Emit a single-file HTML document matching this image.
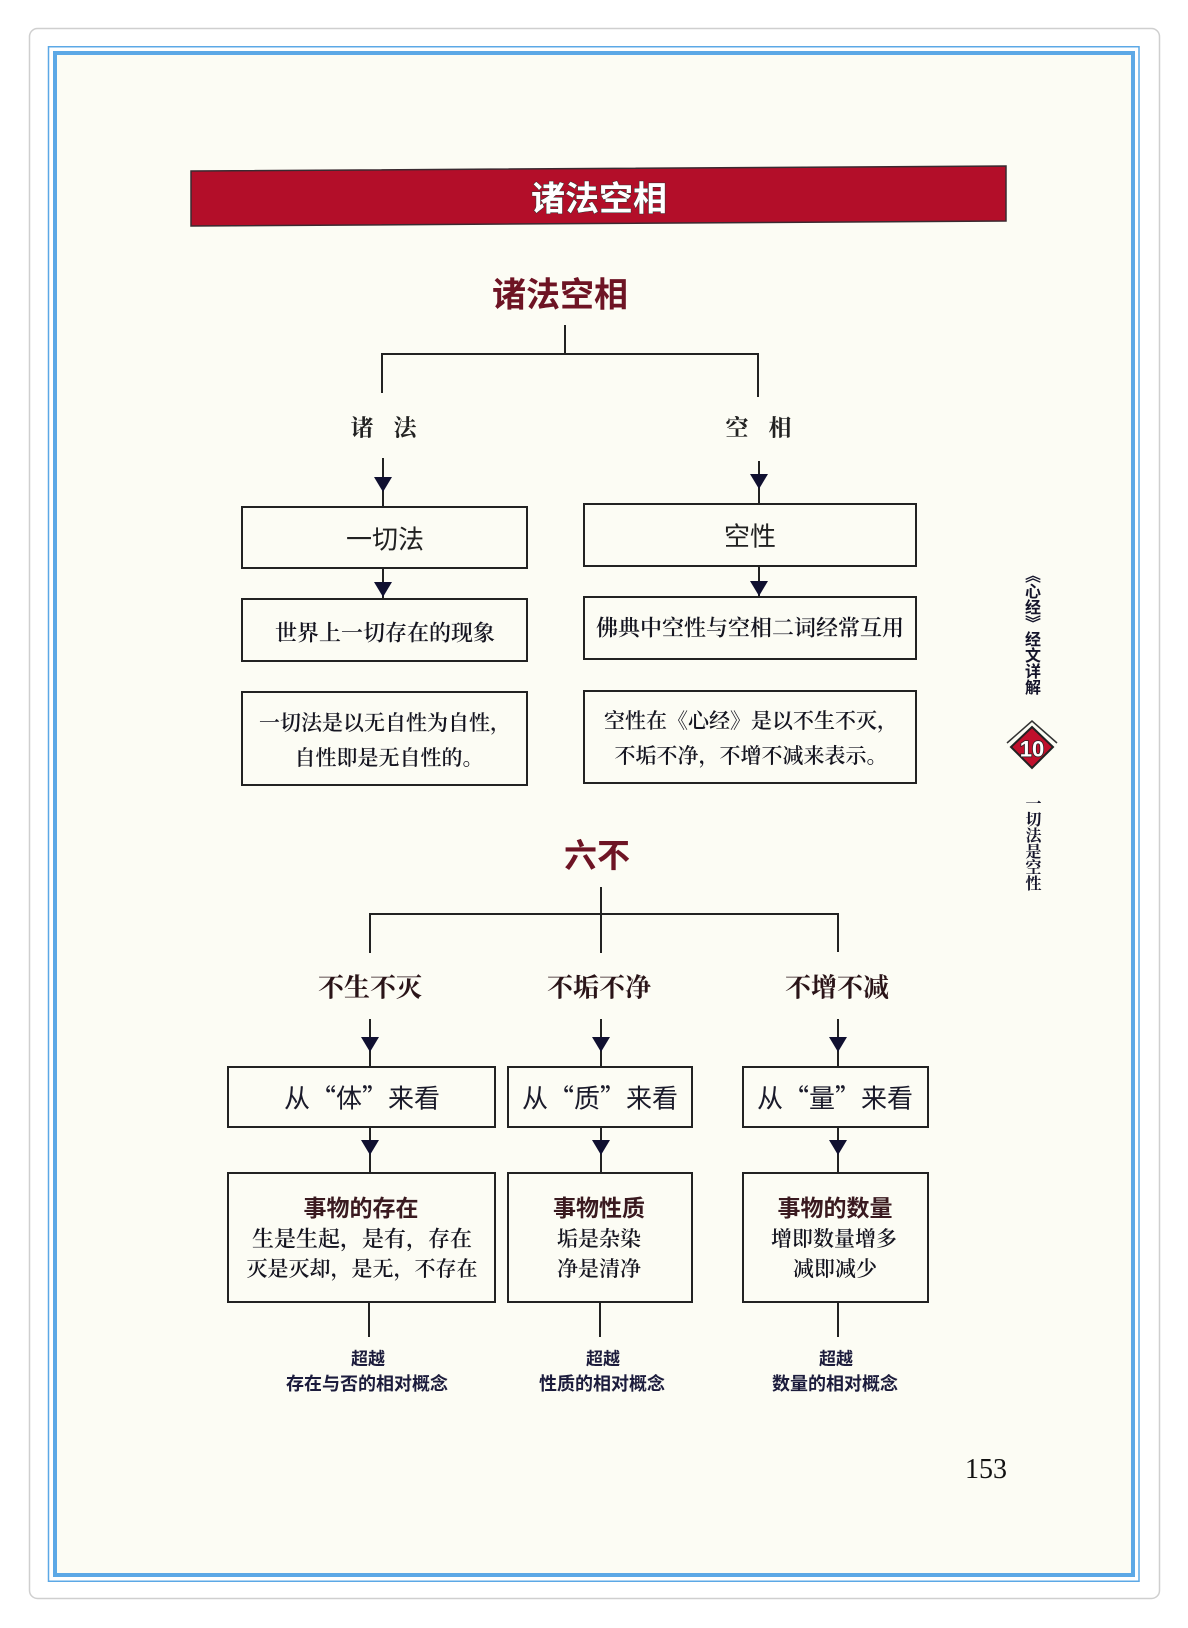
<!DOCTYPE html>
<html><head><meta charset="utf-8">
<style>
html,body{margin:0;padding:0;background:#fff;}
body{width:1188px;height:1628px;position:relative;overflow:hidden;}
svg{position:absolute;left:0;top:0;}
.vt{position:absolute;writing-mode:vertical-rl;font-family:"Noto Sans CJK SC","WenQuanYi Zen Hei",sans-serif;font-size:16px;line-height:20px;color:#14142a;letter-spacing:0;font-weight:bold;}
</style></head>
<body>
<svg width="1188" height="1628" viewBox="0 0 1188 1628" xmlns="http://www.w3.org/2000/svg">
  <!-- card -->
  <rect x="29.5" y="28.5" width="1130" height="1570" rx="8" fill="#ffffff" stroke="#cfcfcf" stroke-width="1.5"/>
  <rect x="48.5" y="46.75" width="1090.5" height="1534.5" fill="none" stroke="#5ca8e6" stroke-width="1.5"/>
  <rect x="55" y="53" width="1078" height="1522" fill="#fcfcf4" stroke="#5ca8e6" stroke-width="4"/>

  <!-- banner -->
  <polygon points="191,171 1006,166 1006,221 191,226" fill="#b30e29" stroke="#3a2a30" stroke-width="1.5"/>
  <text x="599" y="196" text-anchor="middle" dominant-baseline="central" font-family="Noto Sans CJK SC, sans-serif" font-weight="bold" font-size="34" fill="#ffffff" stroke="#333" stroke-width="1" paint-order="stroke">诸法空相</text>

  <!-- heading 1 -->
  <text x="560" y="292" text-anchor="middle" dominant-baseline="central" font-family="Noto Sans CJK SC, sans-serif" font-weight="bold" font-size="34" fill="#6e1424">诸法空相</text>

  <g stroke="#222" stroke-width="2" fill="none">
    <path d="M565 325 V354 M381 354 H759 M382 353 V393 M758 353 V397"/>
    <!-- left column -->
    <path d="M383 458 V507 M383 568 V599"/>
    <rect x="242" y="507" width="285" height="61"/>
    <rect x="242" y="599" width="285" height="62"/>
    <rect x="242" y="692" width="285" height="93"/>
    <!-- right column -->
    <path d="M759 461 V504 M759 566 V597"/>
    <rect x="584" y="504" width="332" height="62"/>
    <rect x="584" y="597" width="332" height="62"/>
    <rect x="584" y="691" width="332" height="92"/>

    <!-- second tree -->
    <path d="M601 887 V914 M369 914 H839 M370 914 V953 M601 914 V953 M838 914 V952"/>
    <path d="M370 1019 V1067 M601 1019 V1067 M838 1019 V1067"/>
    <rect x="228" y="1067" width="267" height="60"/>
    <rect x="508" y="1067" width="184" height="60"/>
    <rect x="743" y="1067" width="185" height="60"/>
    <path d="M370 1127 V1173 M601 1127 V1173 M838 1127 V1173"/>
    <rect x="228" y="1173" width="267" height="129"/>
    <rect x="508" y="1173" width="184" height="129"/>
    <rect x="743" y="1173" width="185" height="129"/>
    <path d="M369 1302 V1337 M600 1302 V1337 M838 1302 V1337"/>
  </g>

  <!-- arrowheads -->
  <g fill="#101030">
    <polygon points="374,477 392,477 383,492"/>
    <polygon points="374,582 392,582 383,597"/>
    <polygon points="750,474 768,474 759,489"/>
    <polygon points="750,581 768,581 759,596"/>
    <polygon points="361,1037 379,1037 370,1052"/>
    <polygon points="592,1037 610,1037 601,1052"/>
    <polygon points="829,1037 847,1037 838,1052"/>
    <polygon points="361,1140 379,1140 370,1155"/>
    <polygon points="592,1140 610,1140 601,1155"/>
    <polygon points="829,1140 847,1140 838,1155"/>
  </g>

  <!-- labels level 1 -->
  <g font-family="Noto Serif CJK SC, serif" font-weight="bold" font-size="23" fill="#222" text-anchor="middle" dominant-baseline="central">
    <text x="362" y="426">诸</text>
    <text x="405" y="426">法</text>
    <text x="737" y="426">空</text>
    <text x="780" y="426">相</text>
  </g>

  <!-- box texts top -->
  <g font-family="Noto Sans CJK SC, sans-serif" font-size="26" fill="#222" text-anchor="middle" dominant-baseline="central">
    <text x="385" y="538">一切法</text>
    <text x="750" y="535">空性</text>
  </g>
  <g font-family="Noto Serif CJK SC, serif" font-weight="600" fill="#151520" text-anchor="middle" dominant-baseline="central">
    <text x="385" y="632" font-size="22">世界上一切存在的现象</text>
    <text x="385" y="722" font-size="21">一切法是以无自性为自性，</text>
    <text x="389" y="757" font-size="21">自性即是无自性的。</text>
    <text x="750" y="627" font-size="22">佛典中空性与空相二词经常互用</text>
    <text x="751" y="720" font-size="21">空性在《心经》是以不生不灭，</text>
    <text x="751" y="755" font-size="21">不垢不净，不增不减来表示。</text>
  </g>

  <!-- heading 2 -->
  <text x="597" y="853" text-anchor="middle" dominant-baseline="central" font-family="Noto Sans CJK SC, sans-serif" font-weight="bold" font-size="33" fill="#6e1424">六不</text>

  <g font-family="Noto Serif CJK SC, serif" font-weight="bold" font-size="26" fill="#2a1418" text-anchor="middle" dominant-baseline="central">
    <text x="370" y="986">不生不灭</text>
    <text x="599" y="986">不垢不净</text>
    <text x="837" y="986">不增不减</text>
  </g>

  <g font-family="Noto Sans CJK SC, sans-serif" font-size="26" fill="#1a1a2a" text-anchor="middle" dominant-baseline="central">
    <text x="362" y="1097">从“体”来看</text>
    <text x="600" y="1097">从“质”来看</text>
    <text x="835" y="1097">从“量”来看</text>
  </g>

  <g font-family="Noto Sans CJK SC, sans-serif" font-weight="bold" font-size="23" fill="#3a1a20" text-anchor="middle" dominant-baseline="central">
    <text x="361" y="1206">事物的存在</text>
    <text x="599" y="1206">事物性质</text>
    <text x="835" y="1206">事物的数量</text>
  </g>
  <g font-family="Noto Serif CJK SC, serif" font-weight="600" font-size="21" fill="#151520" text-anchor="middle" dominant-baseline="central">
    <text x="362" y="1238" font-size="22">生是生起，是有，存在</text>
    <text x="362" y="1268">灭是灭却，是无，不存在</text>
    <text x="599" y="1238">垢是杂染</text>
    <text x="599" y="1268">净是清净</text>
    <text x="834" y="1238">增即数量增多</text>
    <text x="835" y="1268">减即减少</text>
  </g>

  <g font-family="Noto Sans CJK SC, sans-serif" font-weight="bold" fill="#1c1c3c" text-anchor="middle" dominant-baseline="central">
    <text x="368" y="1357" font-size="17">超越</text>
    <text x="367" y="1383" font-size="18">存在与否的相对概念</text>
    <text x="603" y="1357" font-size="17">超越</text>
    <text x="602" y="1383" font-size="18">性质的相对概念</text>
    <text x="836" y="1357" font-size="17">超越</text>
    <text x="835" y="1383" font-size="18">数量的相对概念</text>
  </g>

  <!-- badge -->
  <polyline points="1007,743 1032,721 1057,743" fill="none" stroke="#333" stroke-width="1.5"/>
  <polygon points="1032,727 1053,747 1032,768 1011,747" fill="#c0102c" stroke="#222" stroke-width="2"/>
  <text x="1032" y="749" text-anchor="middle" dominant-baseline="central" font-family="Liberation Sans, sans-serif" font-weight="bold" font-size="22" fill="#ffffff" stroke="#222" stroke-width="1.5" paint-order="stroke">10</text>

  <!-- page number -->
  <text x="965" y="1478" font-family="Liberation Serif, serif" font-size="28" fill="#111">153</text>
</svg>

<div class="vt" style="left:1023px;top:567px;">《心经》经文详解</div>
<div class="vt" style="left:1023px;top:795px;font-family:'Noto Serif CJK SC',serif;">一切法是空性</div>
</body></html>
